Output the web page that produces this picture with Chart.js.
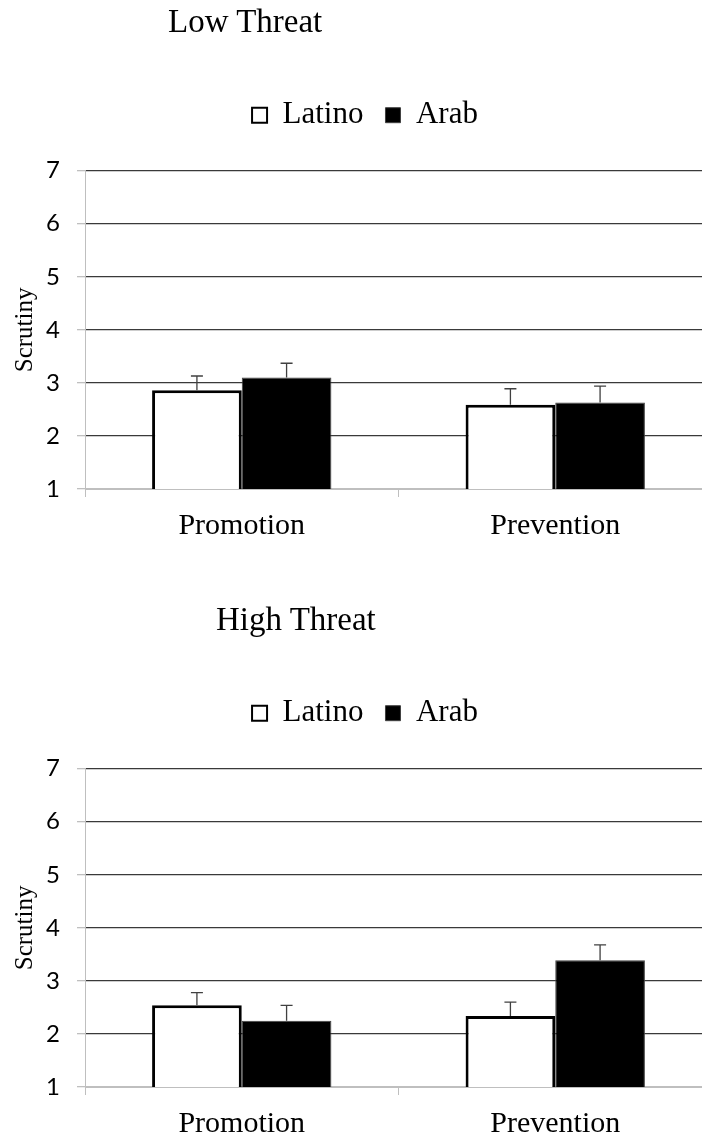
<!DOCTYPE html>
<html>
<head>
<meta charset="utf-8">
<script src="https://cdn.jsdelivr.net/npm/chart.js@4"></script>
<style>
  html, body { margin: 0; padding: 0; background: #fff; width: 702px; height: 1141px; overflow: hidden; }
  .panel { position: absolute; left: 0; width: 712px; height: 598px; }
  .title { position: absolute; font-family: "Liberation Serif", serif; font-size: 33px; line-height: 33px; color: #000; white-space: nowrap; }
</style>
</head>
<body>
<div class="panel" style="top:0"><canvas id="low" width="712" height="598"></canvas></div>
<div class="panel" style="top:598px"><canvas id="high" width="712" height="598"></canvas></div>
<div class="title" style="left:168px; top:5px">Low Threat</div>
<div class="title" style="left:216px; top:603px">High Threat</div>
<script>
const categories = ['Promotion', 'Prevention'];
const seriesNames = ['Latino', 'Arab'];

// low threat panel
const lowLatino = [2.86, 2.59];
const lowLatinoErr = [0.27, 0.30];
const lowArab = [3.10, 2.63];
const lowArabErr = [0.27, 0.31];

// high threat panel
const highLatino = [2.54, 2.34];
const highLatinoErr = [0.24, 0.26];
const highArab = [2.25, 3.39];
const highArabErr = [0.29, 0.29];

const yMin = 1, yMax = 7, yStep = 1;
const yTitle = 'Scrutiny';

Chart.defaults.color = '#000';

// upward-only error bars with a small cap
const errorBars = {
  id: 'errorBars',
  afterDatasetsDraw(chart) {
    const ctx = chart.ctx;
    const y = chart.scales.y;
    ctx.save();
    ctx.strokeStyle = '#404040';
    ctx.lineWidth = 1.3;
    chart.data.datasets.forEach((ds, i) => {
      chart.getDatasetMeta(i).data.forEach((bar, j) => {
        const top = y.getPixelForValue(ds.data[j] + ds.errors[j]);
        ctx.beginPath();
        ctx.moveTo(bar.x, bar.y);
        ctx.lineTo(bar.x, top);
        ctx.moveTo(bar.x - 6, top);
        ctx.lineTo(bar.x + 6, top);
        ctx.stroke();
      });
    });
    ctx.restore();
  }
};

// lift the legend up and nudge it right, leaving the gap above the plot
const legendShift = {
  id: 'legendShift',
  afterLayout(chart) {
    chart.legend.top -= 30;
    chart.legend.bottom -= 30;
    chart.legend.left += 9;
    chart.legend.right += 9;
  }
};

function makeChart(id, latino, latinoErr, arab, arabErr) {
  return new Chart(document.getElementById(id), {
    type: 'bar',
    data: {
      labels: categories,
      datasets: [
        {
          label: seriesNames[0],
          data: latino,
          errors: latinoErr,
          backgroundColor: '#fff',
          borderColor: '#000',
          borderWidth: 3,
          borderSkipped: false,
          categoryPercentage: 0.572,
          barPercentage: 1
        },
        {
          label: seriesNames[1],
          data: arab,
          errors: arabErr,
          backgroundColor: '#000',
          borderColor: '#404040',
          borderWidth: 1,
          borderSkipped: false,
          categoryPercentage: 0.572,
          barPercentage: 1
        }
      ]
    },
    options: {
      responsive: false,
      animation: false,
      layout: { padding: { top: 107.7, left: 0, right: 0, bottom: 0 } },
      plugins: {
        tooltip: { enabled: false },
        legend: {
          position: 'top',
          labels: {
            boxWidth: 15,
            boxHeight: 15,
            padding: 22,
            font: { family: 'Liberation Serif', size: 31 },
            generateLabels(chart) {
              const items = Chart.defaults.plugins.legend.labels.generateLabels(chart);
              items[0].lineWidth = 2;
              return items;
            }
          }
        }
      },
      scales: {
        x: {
          afterFit(scale) { scale.height = 109; },
          border: { color: '#bfbfbf', width: 1 },
          grid: { drawOnChartArea: false, drawTicks: true, tickLength: 8, color: '#bfbfbf' },
          ticks: { padding: 11, font: { family: 'Liberation Serif', size: 30 } }
        },
        y: {
          min: yMin,
          max: yMax,
          afterFit(scale) { scale.width = 85; },
          border: { color: '#bfbfbf', width: 1 },
          grid: {
            tickLength: 8,
            tickColor: '#bfbfbf',
            lineWidth: 1.3,
            color: (c) => c.tick && c.tick.value === yMin ? '#bfbfbf' : '#3a3a3a'
          },
          ticks: { stepSize: yStep, padding: 17, font: { family: 'Lato', size: 24 } },
          title: {
            display: true,
            text: yTitle,
            padding: { top: 10, bottom: 0 },
            font: { family: 'Liberation Serif', size: 25 }
          }
        }
      }
    },
    plugins: [errorBars, legendShift]
  });
}

makeChart('low', lowLatino, lowLatinoErr, lowArab, lowArabErr);
makeChart('high', highLatino, highLatinoErr, highArab, highArabErr);
</script>
</body>
</html>
